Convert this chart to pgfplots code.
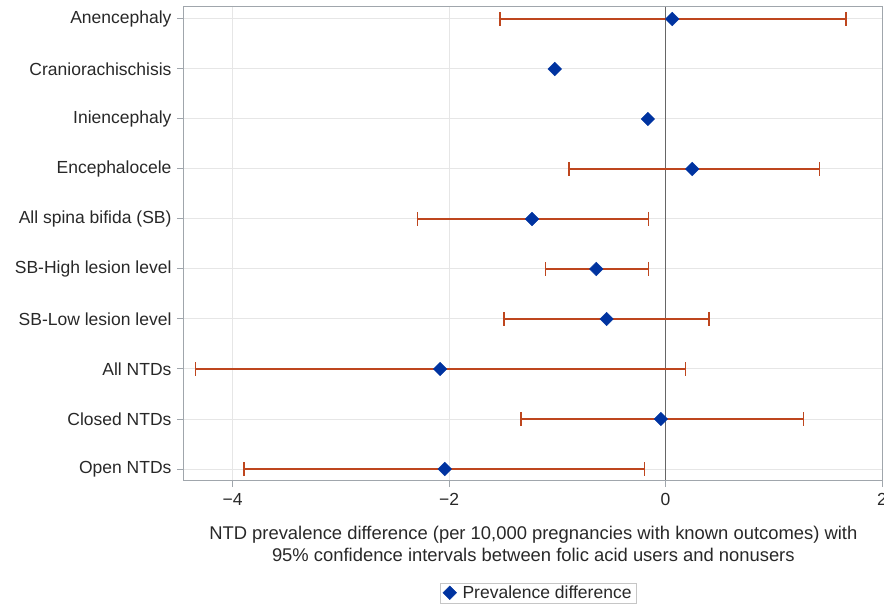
\documentclass[border=0pt]{standalone}
\usepackage{pgfplots}
\pgfplotsset{compat=1.18}
\usepackage{pgfplotstable}
\usepackage{fontspec}
\setmainfont{Liberation Sans}
\definecolor{diam}{RGB}{0,51,160}
\definecolor{cibar}{RGB}{190,70,30}
\definecolor{framec}{RGB}{160,166,172}
\definecolor{gridc}{RGB}{230,230,230}
\definecolor{txt}{RGB}{40,40,40}

% rows: 1 = Anencephaly (top) ... 10 = Open NTDs
\pgfplotstableread{
row est lo hi
1 0.062 -1.532 1.670
4 0.246 -0.895 1.421
5 -1.234 -2.292 -0.157
6 -0.640 -1.110 -0.157
7 -0.545 -1.495 0.403
8 -2.083 -4.344 0.185
9 -0.043 -1.335 1.274
10 -2.040 -3.892 -0.194
}\citab
\pgfplotstableread{
row est
1 0.062
2 -1.024
3 -0.163
4 0.246
5 -1.234
6 -0.640
7 -0.545
8 -2.083
9 -0.043
10 -2.040
}\esttab

\newcommand{\lblfont}{\fontsize{17.5}{21}\selectfont}
\newcommand{\xlfont}{\fontsize{18.4}{22}\selectfont}

\begin{document}
\begin{tikzpicture}
\begin{axis}[
  at={(0,0)}, anchor=south west,
  scale only axis, width=698.7pt, height=473pt,
  xmin=-4.449, xmax=2.006, ymin=0.76, ymax=10.22, y dir=reverse,
  xtick={-4,-2,0,2}, xticklabels={−4,−2,0,2},
  ytick={1,...,10},
  yticklabels={Anencephaly,Craniorachischisis,Iniencephaly,Encephalocele,All spina bifida (SB),SB-High lesion level,SB-Low lesion level,All NTDs,Closed NTDs,Open NTDs},
  tick pos=left, tick align=outside, major tick length=7pt,
  grid=major, major grid style={gridc, line width=1pt},
  axis line style={framec, line width=1pt},
  tick style={framec, line width=1pt},
  tick label style={font=\lblfont, text=txt},
  yticklabel style={xshift=-2pt},
  xticklabel style={yshift=-3pt},
  xlabel={NTD prevalence difference (per 10,000 pregnancies with known outcomes) with\\95\% confidence intervals between folic acid users and nonusers},
  xlabel style={align=center, font=\xlfont, text=txt, yshift=-13pt},
  legend style={at={(0.507,-0.2167)}, anchor=north, draw=gray!45, font=\lblfont, text=txt, inner xsep=3pt, inner ysep=1pt},
]
\addplot[gray!80!black, line width=1pt, forget plot] coordinates {(0,0.76) (0,10.22)};
\addplot[cibar, line width=1.7pt, only marks, mark=none, forget plot,
  error bars/.cd, x dir=both, x explicit,
  error bar style={cibar, line width=1.7pt},
  error mark=|, error mark options={cibar, line width=1.7pt, mark size=7pt}]
  table[x=est, y=row,
    x error plus expr=\thisrow{hi}-\thisrow{est},
    x error minus expr=\thisrow{est}-\thisrow{lo}] {\citab};
\addplot[only marks, mark=square*, mark size=4.8pt,
  mark options={rotate=45, fill=diam, draw=diam}]
  table[x=est, y=row] {\esttab};
\legend{\hspace{4pt}Prevalence difference}
\end{axis}
\pgfresetboundingbox
\path[use as bounding box] (-184pt,-129pt) rectangle (700pt,480pt);
\end{tikzpicture}
\end{document}
